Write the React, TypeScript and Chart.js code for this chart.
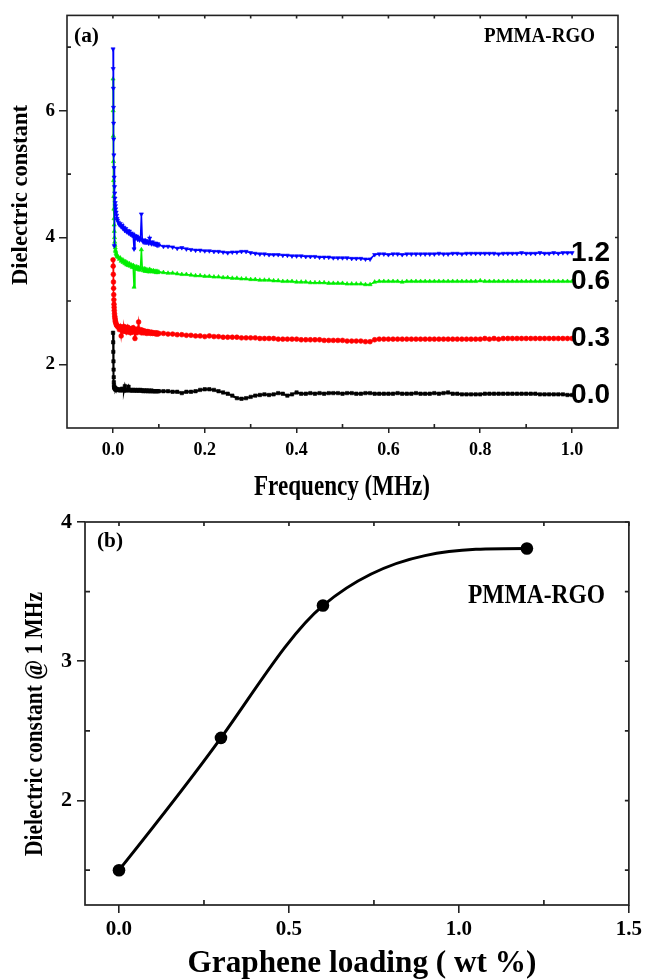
import React, { useEffect, useRef } from "react";
import { Chart, registerables } from "chart.js";
Chart.register(...registerables);

// ---------- DATA: panel (a) dielectric constant vs frequency ----------
const FREQ_MHZ = [
  0.0003, 0.0006, 0.0009, 0.0012, 0.0015, 0.0018, 0.0021, 0.0024, 0.0027, 0.003,
  0.0035, 0.004, 0.0045, 0.005, 0.0055, 0.006, 0.007, 0.008, 0.009, 0.01,
  0.012, 0.014, 0.016, 0.018, 0.02, 0.022, 0.024, 0.026, 0.028, 0.03,
  0.032, 0.034, 0.036, 0.038, 0.04, 0.042, 0.044, 0.046, 0.048, 0.05,
  0.052, 0.054, 0.056, 0.058, 0.06, 0.062, 0.064, 0.066, 0.068, 0.07,
  0.072, 0.074, 0.076, 0.078, 0.08, 0.082, 0.084, 0.086, 0.088, 0.09,
  0.092, 0.094, 0.096, 0.098, 0.1,
  0.11, 0.12, 0.13, 0.14, 0.15, 0.16, 0.17, 0.18, 0.19, 0.2,
  0.21, 0.22, 0.23, 0.24, 0.25, 0.26, 0.27, 0.28, 0.29, 0.3,
  0.31, 0.32, 0.33, 0.34, 0.35, 0.36, 0.37, 0.38, 0.39, 0.4,
  0.41, 0.42, 0.43, 0.44, 0.45, 0.46, 0.47, 0.48, 0.49, 0.5,
  0.51, 0.52, 0.53, 0.54, 0.55, 0.56,
  0.57, 0.58, 0.59, 0.6, 0.61, 0.62, 0.63, 0.64, 0.65, 0.66,
  0.67, 0.68, 0.69, 0.7, 0.71, 0.72, 0.73, 0.74, 0.75, 0.76,
  0.77, 0.78, 0.79, 0.8, 0.81, 0.82, 0.83, 0.84, 0.85, 0.86,
  0.87, 0.88, 0.89, 0.9, 0.91, 0.92, 0.93, 0.94, 0.95, 0.96,
  0.97, 0.98, 0.99, 1.0,
];

const EPS_LOAD_12 = [
  6.97, 6.66, 6.35, 6.05, 5.8, 5.55, 5.3, 5.1, 4.95, 3.87,
  4.8, 4.7, 4.62, 4.55, 4.5, 4.45, 4.4, 4.35, 4.3, 4.27,
  4.24, 4.2, 4.22, 4.17, 4.19, 4.14, 4.16, 4.11, 4.14, 4.09,
  4.11, 4.07, 4.1, 4.05, 4.07, 4.03, 4.05, 3.82, 4.03, 3.99,
  4.02, 3.97, 4.0, 3.96, 3.98, 4.37, 3.96, 3.93, 3.96, 3.92,
  3.95, 3.92, 3.94, 3.91, 3.99, 3.92, 3.9, 3.93, 3.9, 3.91,
  3.89, 3.91, 3.88, 3.9, 3.88,
  3.86, 3.86, 3.85, 3.83, 3.84, 3.82, 3.81, 3.8, 3.8, 3.79,
  3.79, 3.78, 3.78, 3.77, 3.76, 3.77, 3.77, 3.78, 3.78, 3.76,
  3.75, 3.74, 3.74, 3.73, 3.73, 3.73, 3.72, 3.72, 3.71, 3.71,
  3.71, 3.7, 3.7, 3.7, 3.69, 3.69, 3.69, 3.68, 3.68, 3.68,
  3.68, 3.67, 3.67, 3.67, 3.66, 3.66,
  3.73, 3.74, 3.74, 3.73, 3.74, 3.74, 3.73, 3.74, 3.74, 3.74,
  3.74, 3.74, 3.74, 3.74, 3.75, 3.74, 3.74, 3.75, 3.75, 3.74,
  3.75, 3.75, 3.75, 3.75, 3.75, 3.75, 3.75, 3.74, 3.75, 3.75,
  3.75, 3.75, 3.76, 3.75, 3.75, 3.75, 3.76, 3.75, 3.75, 3.76,
  3.75, 3.76, 3.76, 3.76,
];

const EPS_LOAD_06 = [
  6.5, 6.0, 5.6, 5.2, 4.9, 4.65, 4.45, 4.3, 4.2, 4.1,
  4.0, 3.93, 3.88, 3.84, 3.8, 3.78, 3.75, 3.73, 3.71, 3.7,
  3.69, 3.66, 3.68, 3.63, 3.65, 3.61, 3.63, 3.59, 3.62, 3.57,
  3.6, 3.56, 3.59, 3.55, 3.57, 3.53, 3.56, 3.22, 3.54, 3.51,
  3.54, 3.5, 3.53, 3.49, 3.52, 3.81, 3.51, 3.48, 3.51, 3.47,
  3.5, 3.47, 3.49, 3.46, 3.5, 3.47, 3.48, 3.46, 3.48, 3.46,
  3.47, 3.45, 3.47, 3.45, 3.46,
  3.45, 3.44, 3.44, 3.43, 3.42, 3.42, 3.41, 3.4, 3.4, 3.39,
  3.39, 3.38, 3.38, 3.37, 3.37, 3.36, 3.36, 3.35, 3.35, 3.34,
  3.34, 3.33, 3.33, 3.33, 3.32, 3.32, 3.31, 3.31, 3.31, 3.3,
  3.3, 3.3, 3.29, 3.29, 3.29, 3.29, 3.28, 3.28, 3.28, 3.28,
  3.27, 3.27, 3.27, 3.27, 3.26, 3.26,
  3.3, 3.31, 3.31, 3.31, 3.31, 3.31, 3.3, 3.31, 3.31, 3.31,
  3.31, 3.31, 3.31, 3.31, 3.31, 3.31, 3.31, 3.31, 3.31, 3.31,
  3.31, 3.31, 3.31, 3.32, 3.31, 3.31, 3.31, 3.31, 3.31, 3.31,
  3.31, 3.31, 3.31, 3.31, 3.31, 3.31, 3.31, 3.31, 3.31, 3.31,
  3.31, 3.31, 3.31, 3.31,
];

const EPS_LOAD_03 = [
  3.65, 3.55, 3.42, 3.3, 3.2, 3.1, 3.02, 2.95, 2.9, 2.85,
  2.8, 2.76, 2.73, 2.7, 2.68, 2.66, 2.64, 2.62, 2.61, 2.6,
  2.59, 2.55, 2.6, 2.45, 2.57, 2.52, 2.6, 2.53, 2.58, 2.51,
  2.59, 2.52, 2.57, 2.5, 2.56, 2.51, 2.58, 2.52, 2.41, 2.55,
  2.5, 2.56, 2.67, 2.52, 2.55, 2.5, 2.54, 2.5, 2.53, 2.5,
  2.52, 2.49, 2.52, 2.5, 2.51, 2.49, 2.51, 2.49, 2.5, 2.49,
  2.5, 2.48, 2.5, 2.48, 2.49,
  2.49, 2.48, 2.48, 2.47, 2.47, 2.46, 2.46, 2.45, 2.45, 2.44,
  2.45, 2.44, 2.44, 2.43, 2.43, 2.43, 2.43, 2.42, 2.42, 2.42,
  2.42, 2.41, 2.41, 2.41, 2.41, 2.4, 2.4, 2.4, 2.4, 2.4,
  2.39, 2.39, 2.39, 2.39, 2.39, 2.38, 2.38, 2.38, 2.38, 2.38,
  2.37, 2.37, 2.37, 2.37, 2.36, 2.36,
  2.39, 2.4, 2.4, 2.4, 2.4, 2.4, 2.4, 2.4, 2.4, 2.4,
  2.4, 2.4, 2.4, 2.4, 2.4, 2.4, 2.4, 2.4, 2.4, 2.4,
  2.4, 2.4, 2.4, 2.4, 2.41, 2.4, 2.41, 2.4, 2.41, 2.41,
  2.41, 2.41, 2.41, 2.41, 2.41, 2.41, 2.41, 2.41, 2.41, 2.41,
  2.41, 2.41, 2.41, 2.41,
];

const EPS_LOAD_00 = [
  2.5, 2.35, 2.2, 2.05, 1.92, 1.8, 1.72, 1.67, 1.65, 1.64,
  1.63, 1.62, 1.63, 1.61, 1.62, 1.6, 1.62, 1.61, 1.6, 1.6,
  1.6, 1.61, 1.59, 1.6, 1.62, 1.6, 1.59, 1.66, 1.6, 1.59,
  1.6, 1.65, 1.6, 1.59, 1.6, 1.59, 1.6, 1.59, 1.6, 1.59,
  1.59, 1.6, 1.59, 1.59, 1.6, 1.59, 1.59, 1.58, 1.59, 1.59,
  1.58, 1.59, 1.58, 1.59, 1.58, 1.58, 1.59, 1.58, 1.58, 1.58,
  1.58, 1.58, 1.58, 1.58, 1.58,
  1.58, 1.58, 1.57, 1.57, 1.55, 1.57, 1.57, 1.58, 1.6, 1.61,
  1.61, 1.6, 1.58, 1.56, 1.54, 1.51, 1.47, 1.46, 1.47, 1.49,
  1.51, 1.52, 1.53, 1.52, 1.53, 1.55, 1.54, 1.51, 1.53, 1.56,
  1.54, 1.54, 1.55, 1.54, 1.55, 1.54, 1.55, 1.55, 1.55, 1.54,
  1.55, 1.55, 1.54, 1.54, 1.55, 1.55,
  1.54, 1.54, 1.54, 1.54, 1.54, 1.55, 1.54, 1.54, 1.54, 1.55,
  1.54, 1.54, 1.54, 1.55, 1.54, 1.55, 1.56, 1.54, 1.54, 1.53,
  1.53, 1.53, 1.53, 1.53, 1.54, 1.54, 1.54, 1.54, 1.54, 1.54,
  1.54, 1.54, 1.54, 1.54, 1.54, 1.54, 1.53, 1.53, 1.53, 1.53,
  1.53, 1.53, 1.52, 1.52,
];

const CURVE_LABELS = ["1.2", "0.6", "0.3", "0.0"];

const A_X_TICKS = [0, 0.2, 0.4, 0.6, 0.8, 1.0];
const A_X_MINOR = [0.1, 0.3, 0.5, 0.7, 0.9];
const A_Y_TICKS = [2, 4, 6];
const A_Y_MINOR = [3, 5, 7];

// ---------- DATA: panel (b) dielectric constant @ 1 MHz vs loading ----------
const LOADING_WT = [0, 0.3, 0.6, 1.2];
const EPS_AT_1MHZ = [1.5, 2.45, 3.4, 3.81];

const B_X_TICKS = [0, 0.5, 1.0, 1.5];
const B_X_MINOR = [0.25, 0.75, 1.25];
const B_Y_TICKS = [2, 3, 4];
const B_Y_MINOR = [1.5, 2.5, 3.5];

// ---------- styling helpers ----------
const SERIF = "'Liberation Serif', 'Times New Roman', serif";
const SANS = "'Liberation Sans', Arial, sans-serif";
const FRAME = "#222";

type TextItem = {
  text: string;
  x: number;
  y: number;
  size: number;
  width: number;
  rotate?: boolean;
  center?: boolean;
};

function textPlugin(id: string, items: TextItem[]) {
  return {
    id,
    afterDraw(chart: any) {
      const ctx = chart.ctx as CanvasRenderingContext2D;
      items.forEach((it) => {
        ctx.save();
        ctx.font = `bold ${it.size}px ${SERIF}`;
        ctx.fillStyle = "#000";
        ctx.textBaseline = "alphabetic";
        ctx.textAlign = "left";
        const w = ctx.measureText(it.text).width;
        const s = it.width / w;
        ctx.translate(it.x, it.y);
        if (it.rotate) ctx.rotate(-Math.PI / 2);
        ctx.scale(s, 1);
        ctx.fillText(it.text, it.center ? -w / 2 : 0, 0);
        ctx.restore();
      });
    },
  };
}

type FrameCfg = {
  xMinor: number[];
  yMinor: number[];
  topTicks: number[];
  rightTicks: number[];
  minorLen: number;
  edgeLen: number;
  lw: number;
};

function framePlugin(id: string, cfg: FrameCfg) {
  return {
    id,
    afterDraw(chart: any) {
      const ctx = chart.ctx as CanvasRenderingContext2D;
      const { left, right, top, bottom } = chart.chartArea;
      const xs = chart.scales.x;
      const ys = chart.scales.y;
      ctx.save();
      ctx.strokeStyle = FRAME;
      ctx.lineWidth = cfg.lw;
      ctx.strokeRect(left, top, right - left, bottom - top);
      ctx.beginPath();
      cfg.xMinor.forEach((v) => {
        const p = xs.getPixelForValue(v);
        ctx.moveTo(p, bottom);
        ctx.lineTo(p, bottom - cfg.minorLen);
      });
      cfg.yMinor.forEach((v) => {
        const p = ys.getPixelForValue(v);
        ctx.moveTo(left, p);
        ctx.lineTo(left + cfg.minorLen, p);
      });
      cfg.topTicks.forEach((v) => {
        const p = xs.getPixelForValue(v);
        ctx.moveTo(p, top);
        ctx.lineTo(p, top + cfg.edgeLen);
      });
      cfg.rightTicks.forEach((v) => {
        const p = ys.getPixelForValue(v);
        ctx.moveTo(right, p);
        ctx.lineTo(right - cfg.edgeLen, p);
      });
      ctx.stroke();
      ctx.restore();
    },
  };
}

const curveLabelPlugin = {
  id: "curveLabels",
  afterDatasetsDraw(chart: any) {
    const ctx = chart.ctx as CanvasRenderingContext2D;
    ctx.save();
    ctx.font = `bold 28px ${SANS}`;
    ctx.fillStyle = "#000";
    ctx.textBaseline = "middle";
    ctx.textAlign = "left";
    chart.data.datasets.forEach((ds: any, i: number) => {
      const meta = chart.getDatasetMeta(i);
      const last = meta.data[meta.data.length - 1];
      if (last) ctx.fillText(ds.label, last.x - 1, last.y);
    });
    ctx.restore();
  },
};

// Natural cubic spline tangents with a Fritsch–Carlson monotonicity limiter
function splineSlopes(xs: number[], ys: number[]): number[] {
  const n = xs.length;
  const h: number[] = [];
  const d: number[] = [];
  for (let i = 0; i < n - 1; i++) {
    h[i] = xs[i + 1] - xs[i];
    d[i] = (ys[i + 1] - ys[i]) / h[i];
  }
  const M = new Array(n).fill(0);
  if (n > 2) {
    const a: number[] = [];
    const b: number[] = [];
    const c: number[] = [];
    const r: number[] = [];
    for (let i = 1; i < n - 1; i++) {
      a.push(h[i - 1]);
      b.push(2 * (h[i - 1] + h[i]));
      c.push(h[i]);
      r.push(6 * (d[i] - d[i - 1]));
    }
    const m = b.length;
    for (let i = 1; i < m; i++) {
      const w = a[i] / b[i - 1];
      b[i] -= w * c[i - 1];
      r[i] -= w * r[i - 1];
    }
    const sol = new Array(m);
    sol[m - 1] = r[m - 1] / b[m - 1];
    for (let i = m - 2; i >= 0; i--) sol[i] = (r[i] - c[i] * sol[i + 1]) / b[i];
    for (let i = 1; i < n - 1; i++) M[i] = sol[i - 1];
  }
  const s: number[] = [];
  for (let i = 0; i < n; i++) {
    if (i < n - 1) s[i] = d[i] - (h[i] * (2 * M[i] + M[i + 1])) / 6;
    else s[i] = d[n - 2] + (h[n - 2] * (M[n - 2] + 2 * M[n - 1])) / 6;
  }
  for (let k = 0; k < n - 1; k++) {
    if (d[k] === 0) {
      s[k] = 0;
      s[k + 1] = 0;
      continue;
    }
    if (Math.sign(s[k]) !== Math.sign(d[k])) s[k] = 0;
    if (Math.sign(s[k + 1]) !== Math.sign(d[k])) s[k + 1] = 0;
    const al = s[k] / d[k];
    const be = s[k + 1] / d[k];
    const sq = al * al + be * be;
    if (sq > 9) {
      const t = 3 / Math.sqrt(sq);
      s[k] = t * al * d[k];
      s[k + 1] = t * be * d[k];
    }
  }
  return s;
}

const splinePlugin = {
  id: "splineCurve",
  beforeDatasetDraw(chart: any, args: any) {
    const meta = args.meta;
    const line = meta.dataset;
    const pts = meta.data;
    if (!line || !pts || pts.length < 3) return;
    const raw = chart.data.datasets[args.index].data as { x: number; y: number }[];
    const slopes = splineSlopes(raw.map((p) => p.x), raw.map((p) => p.y));
    const xs = chart.scales.x;
    const ys = chart.scales.y;
    const kx = xs.getPixelForValue(1) - xs.getPixelForValue(0);
    const ky = ys.getPixelForValue(1) - ys.getPixelForValue(0);
    const n = pts.length;
    for (let i = 0; i < n; i++) {
      const p = pts[i];
      const sp = (slopes[i] * ky) / kx;
      const dPrev = i > 0 ? (p.x - pts[i - 1].x) / 3 : 0;
      const dNext = i < n - 1 ? (pts[i + 1].x - p.x) / 3 : 0;
      p.cp1x = p.x - dPrev;
      p.cp1y = p.y - sp * dPrev;
      p.cp2x = p.x + dNext;
      p.cp2y = p.y + sp * dNext;
    }
    line._pointsUpdated = true;
    line._path = undefined;
  },
};

const toPts = (xs: number[], ys: number[]) => xs.map((x, i) => ({ x, y: ys[i] }));

function tickFont(size: number) {
  return { family: SERIF, size, weight: "bold" as const };
}

export default function App() {
  const topRef = useRef<HTMLCanvasElement | null>(null);
  const botRef = useRef<HTMLCanvasElement | null>(null);

  useEffect(() => {
    if (!topRef.current || !botRef.current) return;

    const seriesStyle = [
      { color: "#0000ff", style: "triangle", rot: 180 },
      { color: "#00ee00", style: "triangle", rot: 0 },
      { color: "#ff0000", style: "circle", rot: 0 },
      { color: "#000000", style: "rect", rot: 0 },
    ];
    const seriesData = [EPS_LOAD_12, EPS_LOAD_06, EPS_LOAD_03, EPS_LOAD_00];

    const chartA = new Chart(topRef.current, {
      type: "line",
      data: {
        datasets: seriesData.map((ys, i) => ({
          label: CURVE_LABELS[i],
          data: toPts(FREQ_MHZ, ys),
          borderColor: seriesStyle[i].color,
          backgroundColor: seriesStyle[i].color,
          borderWidth: i === 3 ? 2 : 1.5,
          pointStyle: seriesStyle[i].style as any,
          pointRotation: seriesStyle[i].rot,
          pointRadius: 2.4,
          pointBorderWidth: 0.6,
          pointBorderColor: seriesStyle[i].color,
          pointBackgroundColor: seriesStyle[i].color,
          tension: 0,
          fill: false,
        })),
      },
      options: {
        responsive: false,
        animation: false,
        events: [],
        layout: { padding: { top: 14, right: 28, left: 0, bottom: 0 } },
        plugins: { legend: { display: false }, tooltip: { enabled: false } },
        scales: {
          x: {
            type: "linear",
            min: -0.1,
            max: 1.1,
            afterBuildTicks: (s: any) => {
              s.ticks = A_X_TICKS.map((v) => ({ value: v }));
            },
            afterFit: (s: any) => {
              s.height = 72;
            },
            ticks: {
              font: tickFont(18),
              color: "#000",
              padding: 7,
              maxRotation: 0,
              autoSkip: false,
              callback: (v: any) => Number(v).toFixed(1),
            },
            grid: { drawOnChartArea: false, drawTicks: true, tickLength: 5, color: FRAME, lineWidth: 1.5 },
            border: { display: false },
          },
          y: {
            type: "linear",
            min: 1,
            max: 7.5,
            afterBuildTicks: (s: any) => {
              s.ticks = A_Y_TICKS.map((v) => ({ value: v }));
            },
            afterFit: (s: any) => {
              s.width = 67;
            },
            ticks: {
              font: tickFont(19),
              color: "#000",
              padding: 4,
              autoSkip: false,
              callback: (v: any) => String(v),
            },
            grid: { drawOnChartArea: false, drawTicks: true, tickLength: 8, color: FRAME, lineWidth: 1.5 },
            border: { display: false },
          },
        },
      },
      plugins: [
        curveLabelPlugin,
        framePlugin("frameA", {
          xMinor: A_X_MINOR,
          yMinor: A_Y_MINOR,
          topTicks: [...A_X_TICKS, ...A_X_MINOR],
          rightTicks: [...A_Y_TICKS, ...A_Y_MINOR],
          minorLen: 4,
          edgeLen: 3,
          lw: 1.6,
        }),
        textPlugin("textA", [
          { text: "(a)", x: 74, y: 42, size: 20, width: 25 },
          { text: "PMMA-RGO", x: 484, y: 42, size: 22, width: 111 },
          { text: "Dielectric constant", x: 27, y: 195, size: 24, width: 180, rotate: true, center: true },
          { text: "Frequency (MHz)", x: 342, y: 495, size: 30, width: 176, center: true },
        ]),
      ],
    } as any);

    const chartB = new Chart(botRef.current, {
      type: "line",
      data: {
        datasets: [
          {
            label: "PMMA-RGO",
            data: toPts(LOADING_WT, EPS_AT_1MHZ),
            borderColor: "#000",
            backgroundColor: "#000",
            borderWidth: 3,
            pointRadius: 6.3,
            pointBackgroundColor: "#000",
            pointBorderColor: "#000",
            pointBorderWidth: 0,
            cubicInterpolationMode: "monotone",
            fill: false,
          },
        ],
      },
      options: {
        responsive: false,
        animation: false,
        events: [],
        layout: { padding: { top: 22, right: 17, left: 0, bottom: 0 } },
        plugins: { legend: { display: false }, tooltip: { enabled: false } },
        scales: {
          x: {
            type: "linear",
            min: -0.1,
            max: 1.5,
            afterBuildTicks: (s: any) => {
              s.ticks = B_X_TICKS.map((v) => ({ value: v }));
            },
            afterFit: (s: any) => {
              s.height = 74;
            },
            ticks: {
              font: tickFont(21),
              color: "#000",
              padding: 4,
              maxRotation: 0,
              autoSkip: false,
              callback: (v: any) => Number(v).toFixed(1),
            },
            grid: { drawOnChartArea: false, drawTicks: true, tickLength: 8, color: FRAME, lineWidth: 1.6 },
            border: { display: false },
          },
          y: {
            type: "linear",
            min: 1.25,
            max: 4,
            afterBuildTicks: (s: any) => {
              s.ticks = B_Y_TICKS.map((v) => ({ value: v }));
            },
            afterFit: (s: any) => {
              s.width = 85;
            },
            ticks: {
              font: tickFont(22),
              color: "#000",
              padding: 5,
              autoSkip: false,
              callback: (v: any) => String(v),
            },
            grid: { drawOnChartArea: false, drawTicks: true, tickLength: 8, color: FRAME, lineWidth: 1.6 },
            border: { display: false },
          },
        },
      },
      plugins: [
        splinePlugin,
        framePlugin("frameB", {
          xMinor: B_X_MINOR,
          yMinor: B_Y_MINOR,
          topTicks: [...B_X_TICKS, ...B_X_MINOR],
          rightTicks: [...B_Y_TICKS, ...B_Y_MINOR],
          minorLen: 5,
          edgeLen: 4,
          lw: 1.7,
        }),
        textPlugin("textB", [
          { text: "(b)", x: 97, y: 47, size: 20, width: 26 },
          { text: "PMMA-RGO", x: 468, y: 103, size: 27, width: 137 },
          { text: "Dielectric constant @ 1 MHz", x: 42, y: 224, size: 26, width: 264, rotate: true, center: true },
          { text: "Graphene loading ( wt %)", x: 362, y: 472, size: 32, width: 349, center: true },
        ]),
      ],
    } as any);

    return () => {
      chartA.destroy();
      chartB.destroy();
    };
  }, []);

  return (
    <div style={{ position: "absolute", left: 0, top: 0, width: 646, height: 979, background: "#fff" }}>
      <canvas ref={topRef} width={646} height={500} style={{ position: "absolute", left: 0, top: 0, display: "block" }} />
      <canvas ref={botRef} width={646} height={479} style={{ position: "absolute", left: 0, top: 500, display: "block" }} />
    </div>
  );
}
